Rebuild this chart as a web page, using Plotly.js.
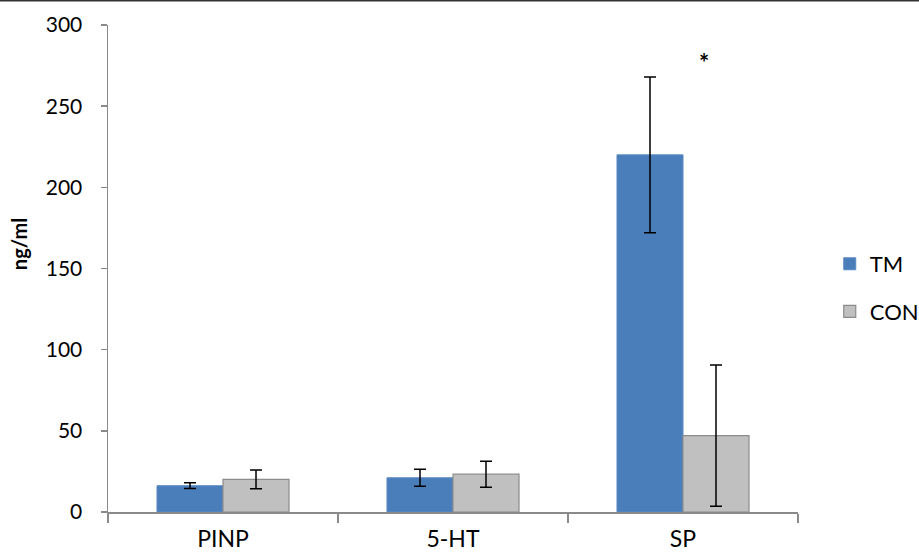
<!DOCTYPE html>
<html>
<head>
<meta charset="utf-8">
<script src="https://cdn.plot.ly/plotly-3.0.1.min.js"></script>
<style>html,body{margin:0;padding:0;background:#fff;}#chart{width:919px;height:556px;}</style>
</head>
<body>
<div id="chart"></div>
<script>
const categories = ["PINP", "5-HT", "SP"];
const tmValues = [16.2, 21.1, 220];
const tmErrors = [1.8, 5.3, 48];
const conValues = [20.1, 23.3, 47.1];
const conErrors = [5.8, 8, 43.5];
const yTicks = [0, 50, 100, 150, 200, 250, 300];

const font = "Lato, 'Open Sans', sans-serif";

const traces = [
  {
    type: "bar", name: "TM", x: categories, y: tmValues,
    marker: {color: "#4a7ebb", line: {color: "#5b8ac4", width: 1}},
    error_y: {type: "data", array: tmErrors, visible: true, color: "#000", thickness: 1.5, width: 6},
    legendgroup: "a"
  },
  {
    type: "bar", name: "CON", x: categories, y: conValues,
    marker: {color: "#c0c0c0", line: {color: "#8c8c8c", width: 1.2}},
    error_y: {type: "data", array: conErrors, visible: true, color: "#000", thickness: 1.5, width: 6},
    legendgroup: "b"
  }
];

const layout = {
  width: 919, height: 556,
  margin: {l: 108, r: 121, t: 25, b: 44, autoexpand: false},
  paper_bgcolor: "#fff", plot_bgcolor: "#fff",
  barmode: "group", bargap: 0.426, bargroupgap: 0,
  font: {family: font, size: 22, color: "#000"},
  xaxis: {
    type: "category", showline: true, linecolor: "#8a8a8a", linewidth: 1.5,
    ticks: "outside", tickson: "boundaries", ticklen: 9, tickcolor: "#8a8a8a", tickwidth: 1.5,
    ticklabelstandoff: 6, automargin: false,
    tickfont: {family: font, size: 23, color: "#000"}, showgrid: false, zeroline: false,
    fixedrange: true
  },
  yaxis: {
    range: [0, 300], tickvals: yTicks, ticktext: yTicks.map(String),
    showline: true, linecolor: "#8a8a8a", linewidth: 1.5,
    ticks: "outside", ticklen: 6, tickcolor: "#8a8a8a", tickwidth: 1.5,
    ticklabelstandoff: 14, automargin: false,
    tickfont: {family: font, size: 21, color: "#000"}, showgrid: false, zeroline: false,
    fixedrange: true
  },
  showlegend: true,
  legend: {
    x: 1.046, xanchor: "left", y: 0.46, yanchor: "middle",
    font: {family: font, size: 22, color: "#000"},
    tracegroupgap: 16, itemwidth: 30, traceorder: "grouped"
  },
  annotations: [
    {text: "<b>ng/ml</b>", xref: "paper", yref: "paper", x: -0.129, y: 0.55,
     xanchor: "center", yanchor: "middle", textangle: -90, showarrow: false,
     font: {family: font, size: 20, color: "#000"}},
    {text: "<b>*</b>", xref: "x", yref: "y", x: 2.09, y: 277, showarrow: false,
     font: {family: font, size: 24, color: "#000"}}
  ],
  shapes: [
    {type: "line", xref: "paper", yref: "paper", x0: -0.2, x1: 1.2, y0: 1.0513, y1: 1.0513,
     line: {color: "#333", width: 3}}
  ]
};

Plotly.newPlot("chart", traces, layout, {displayModeBar: false, staticPlot: true});
</script>
</body>
</html>
